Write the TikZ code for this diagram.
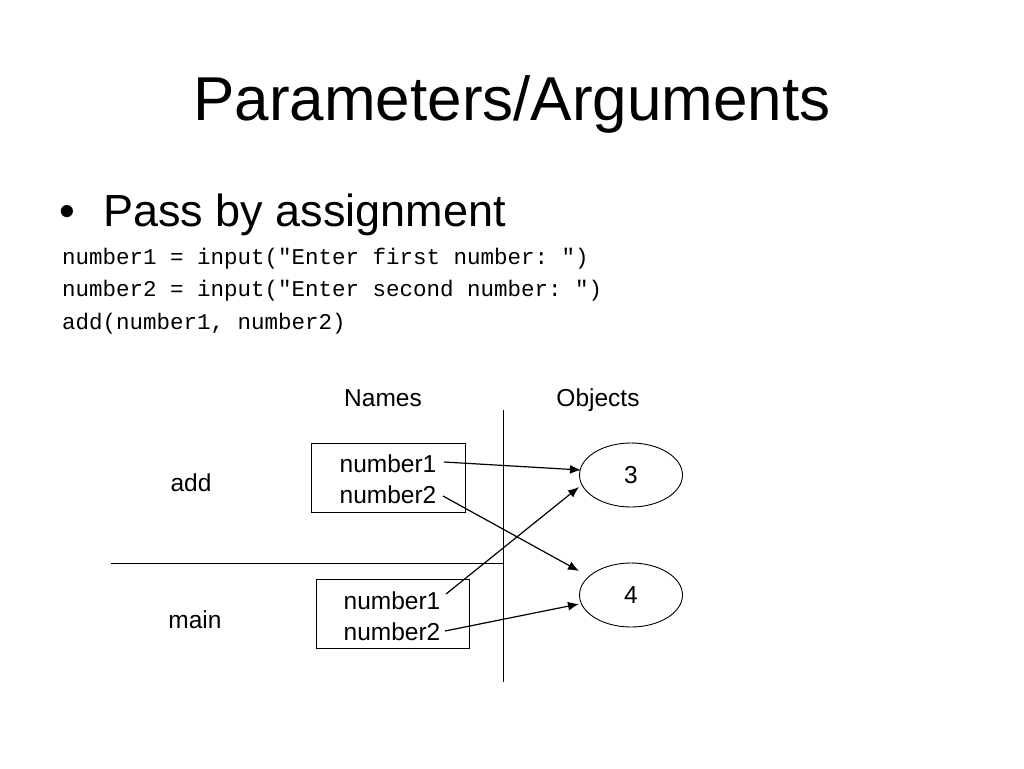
\documentclass[tikz,border=0pt]{standalone}
\usepackage{fontspec}
\setmainfont{Liberation Sans}
\setmonofont{Liberation Mono}
\usetikzlibrary{shapes.geometric,arrows.meta}
\begin{document}
\begin{tikzpicture}[x=1pt,y=-1pt,
  lbl/.style={font=\fontsize{24.5}{28}\selectfont,inner sep=0pt,anchor=base},
  code/.style={font=\ttfamily\fontsize{22.5}{25}\selectfont,inner sep=0pt,anchor=base west},
  frame/.style={draw,line width=0.9pt,minimum width=#1,minimum height=69pt,inner sep=0pt},
  obj/.style={draw,ellipse,line width=0.9pt,minimum width=103pt,minimum height=64pt,inner sep=0pt,font=\fontsize{24.5}{28}\selectfont},
  conn/.style={line width=1.2pt,-{Latex[length=11pt,width=9pt]}},
  rule/.style={line width=0.9pt}]
\useasboundingbox (0,0) rectangle (1024,768);
% title and bullet
\node[inner sep=0pt,anchor=base,font=\fontsize{62}{70}\selectfont] (title) at (512,120) {Parameters/Arguments};
\node[inner sep=0pt,anchor=base,font=\fontsize{45}{50}\selectfont] (bullet) at (67,226) {•};
\node[inner sep=0pt,anchor=base west,font=\fontsize{45}{50}\selectfont] (pass) at (103,226) {Pass by assignment};
% code
\node[code] (c1) at (62,264) {number1 = input("Enter first number: ")};
\node[code] (c2) at (62,296) {number2 = input("Enter second number: ")};
\node[code] (c3) at (62,329) {add(number1, number2)};
% headers
\node[lbl] (names) at (383,406) {Names};
\node[lbl] (objects) at (598,406) {Objects};
% dividers
\coordinate (vtop) at (503,410);
\coordinate (vbot) at (503,682);
\coordinate (hl) at (111,563);
\coordinate (hr) at (503,563);
\draw[rule] (vtop) -- (vbot);
\draw[rule] (hl) -- (hr);
% frame labels
\node[lbl] (add) at (191,491) {add};
\node[lbl] (main) at (195,628) {main};
% boxes
\node[frame=154pt] (box1) at (388,477.5) {};
\node[frame=153pt] (box2) at (392.5,614) {};
\node[lbl] (a1) at (388,472) {number1};
\node[lbl] (a2) at (388,503) {number2};
\node[lbl] (m1) at (392,609) {number1};
\node[lbl] (m2) at (392,640) {number2};
% objects
\node[obj] (o3) at (631,475) {3};
\node[obj] (o4) at (631,595) {4};
% arrow tips
\coordinate (t1) at (581,470);
\coordinate (t2) at (579,571);
\coordinate (t3) at (579,487);
\coordinate (t4) at (579,604);
\coordinate (s1) at (444,462);
\coordinate (s2) at (443,496);
\coordinate (s3) at (446,594);
\coordinate (s4) at (445,631);
\draw[conn] (s1) -- (t1);
\draw[conn] (s2) -- (t2);
\draw[conn] (s3) -- (t3);
\draw[conn] (s4) -- (t4);
\end{tikzpicture}
\end{document}
